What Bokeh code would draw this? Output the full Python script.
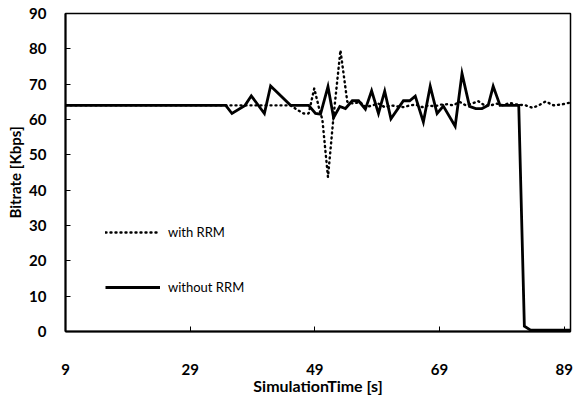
from bokeh.plotting import figure
from bokeh.models import Range1d, FixedTicker, Legend, LegendItem
from bokeh.embed import file_html
from bokeh.resources import INLINE

# Data
t_with = [9, 45.1, 46.3, 47.2, 48.0, 48.9, 49.7, 50.2, 51.1, 52.0, 53.1, 54.2, 55.2, 56.2,
          57.2, 58.2, 59.2, 60.2, 61.2, 62.2, 63.2, 64.2, 65.2, 66.2, 67.2, 68.2, 69.2, 70.2,
          71.2, 72.2, 73.2, 74.2, 75.2, 76.2, 77.2, 78.2, 79.2, 80.2, 81.2, 82.8, 83.9, 84.9,
          86.0, 87.3, 88.7, 90]
v_with = [64, 64, 62.6, 61.7, 61.7, 68.8, 63, 60, 43.7, 61, 79.6, 65, 64.5, 65,
          63.5, 64, 64.5, 63.5, 64, 63.7, 63.5, 64, 64.2, 63.5, 64, 63.7, 64.2, 64.3,
          64, 65, 64, 64.5, 65.2, 64, 64, 64.5, 64, 64.7, 64.3, 64, 63.3, 64,
          65.1, 64, 64.3, 64.8]

t_without = [9, 34.7, 35.7, 37.8, 38.8, 40.9, 41.9, 45.1, 48.0, 49.1, 49.9, 51.1, 52.0,
             53.0, 53.9, 55.0, 56.0, 57.1, 58.1, 59.2, 60.2, 61.2, 63.2, 64.2, 65.1, 66.4,
             67.5, 68.6, 69.6, 71.5, 72.6, 73.8, 74.8, 75.8, 76.8, 77.6, 78.7, 81.7, 82.6,
             83.6, 90]
v_without = [64, 64, 61.7, 64, 66.7, 61.7, 69.5, 64, 64, 61.7, 61.5, 69.3, 60.5,
             63.7, 63.1, 65.3, 65.3, 62.9, 68.1, 61.7, 68, 60.2, 65.3, 65.3, 66.6, 59.3,
             69.4, 61.7, 63.8, 58.1, 73, 63.7, 63.1, 63.1, 64, 69.4, 64, 64, 1.5,
             0.4, 0.4]

x_ticks = [9, 29, 49, 69, 89]
y_ticks = [0, 10, 20, 30, 40, 50, 60, 70, 80, 90]
labels = ["with RRM", "without RRM"]

FONT = "Lato"

p = figure(width=574, height=400, output_backend="svg", toolbar_location=None,
           x_range=Range1d(9, 90), y_range=Range1d(0, 90),
           min_border_left=65, min_border_right=4, min_border_top=13, min_border_bottom=69)

p.xgrid.visible = False
p.ygrid.visible = False
p.outline_line_color = "black"
p.outline_line_width = 1.5

for ax in (p.xaxis[0], p.yaxis[0]):
    ax.axis_line_width = 2
    ax.axis_line_color = "black"
    ax.major_tick_in = 5
    ax.major_tick_out = 0
    ax.major_tick_line_color = "black"
    ax.major_tick_line_width = 1
    ax.minor_tick_line_color = None
    ax.major_label_text_font = FONT
    ax.major_label_text_font_style = "bold"
    ax.major_label_text_font_size = "15px"
    ax.major_label_text_color = "black"
    ax.axis_label_text_font = FONT
    ax.axis_label_text_font_style = "bold"
    ax.axis_label_text_color = "black"

p.xaxis.ticker = FixedTicker(ticks=x_ticks)
p.yaxis.ticker = FixedTicker(ticks=y_ticks)
p.xaxis.major_label_standoff = 32
p.yaxis.major_label_standoff = 19
p.xaxis.axis_label = "SimulationTime [s]"
p.xaxis.axis_label_text_font_size = "16px"
p.xaxis.axis_label_standoff = -2
p.yaxis.axis_label = "Bitrate [Kbps]"
p.yaxis.axis_label_text_font_size = "15px"
p.yaxis.axis_label_standoff = 2

r_with = p.line(t_with, v_with, line_color="black", line_width=2.4,
                line_dash="1 4", line_cap="round")
r_without = p.line(t_without, v_without, line_color="black", line_width=2.8,
                   line_join="miter")

legend = Legend(items=[LegendItem(label=labels[0], renderers=[r_with]),
                       LegendItem(label=labels[1], renderers=[r_without])],
                location=(40, 34), padding=0, margin=0, spacing=35,
                glyph_width=55, glyph_height=20, label_standoff=8,
                border_line_alpha=0, background_fill_alpha=0,
                label_text_font=FONT, label_text_font_size="13px",
                label_text_color="black")
p.add_layout(legend)

open("out.html", "w").write(file_html(p, INLINE))
